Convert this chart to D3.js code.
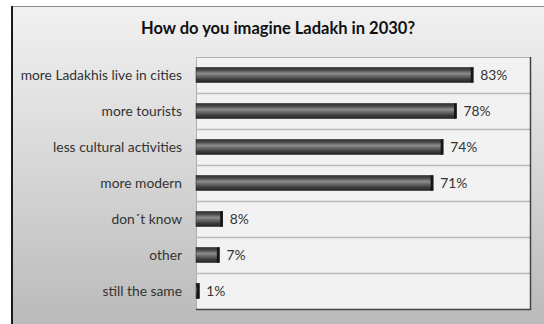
<!DOCTYPE html>
<html>
<head>
<meta charset="utf-8">
<script src="https://cdn.jsdelivr.net/npm/d3@7"></script>
<style>
  html, body { margin: 0; padding: 0; background: #ffffff; }
  svg { display: block; }
</style>
</head>
<body>
<div id="chart"></div>
<script>
// Survey answers: how people imagine Ladakh in 2030 (share of respondents, %)
const categories = [
  "more Ladakhis live in cities",
  "more tourists",
  "less cultural activities",
  "more modern",
  "don\u00b4t know",
  "other",
  "still the same"
];
const values = [83, 78, 74, 71, 8, 7, 1];
const valueLabels = ["83%", "78%", "74%", "71%", "8%", "7%", "1%"];
const chartTitle = "How do you imagine Ladakh in 2030?";

const W = 544, H = 324;
const frame = { x: 11, y: 6 };
const plot = { left: 196, right: 530, top: 57, bottom: 309 };
const font = "Lato, 'Open Sans', sans-serif";

const svg = d3.select("#chart").append("svg")
  .attr("width", W).attr("height", H);

const defs = svg.append("defs");

// outer panel gradient
const bg = defs.append("linearGradient").attr("id", "bg")
  .attr("x1", 0).attr("y1", 0).attr("x2", 0).attr("y2", 1);
bg.append("stop").attr("offset", "0%").attr("stop-color", "#f1f1f1");
bg.append("stop").attr("offset", "45%").attr("stop-color", "#dadada");
bg.append("stop").attr("offset", "100%").attr("stop-color", "#bababa");

// cylinder-like bar shading
const barGrad = defs.append("linearGradient").attr("id", "barGrad")
  .attr("x1", 0).attr("y1", 0).attr("x2", 0).attr("y2", 1);
[["0%", "#2e2e2e"], ["18%", "#4a4a4a"], ["40%", "#8c8c8c"], ["55%", "#6e6e6e"],
 ["80%", "#3a3a3a"], ["100%", "#262626"]].forEach(([o, c]) =>
  barGrad.append("stop").attr("offset", o).attr("stop-color", c));

// panel
svg.append("rect")
  .attr("x", frame.x).attr("y", frame.y)
  .attr("width", W - frame.x).attr("height", H - frame.y)
  .attr("fill", "url(#bg)");
svg.append("line")
  .attr("x1", frame.x).attr("x2", W)
  .attr("y1", frame.y + 0.5).attr("y2", frame.y + 0.5)
  .attr("stroke", "#8a8a8a").attr("stroke-width", 1);
svg.append("line")
  .attr("x1", frame.x + 1).attr("x2", frame.x + 1)
  .attr("y1", frame.y).attr("y2", H)
  .attr("stroke", "#1a1a1a").attr("stroke-width", 2);

// title
svg.append("text")
  .attr("x", 278).attr("y", 34)
  .attr("text-anchor", "middle")
  .attr("font-family", font).attr("font-weight", "bold")
  .attr("font-size", 16.5).attr("fill", "#111")
  .text(chartTitle);

// scales
const x = d3.scaleLinear().domain([0, 100]).range([plot.left, plot.right]);
const y = d3.scaleBand().domain(categories)
  .range([plot.top, plot.bottom]).paddingInner(0.58).paddingOuter(0.29);
const step = y.step();

// plot area
svg.append("rect")
  .attr("x", plot.left).attr("y", plot.top)
  .attr("width", plot.right - plot.left).attr("height", plot.bottom - plot.top)
  .attr("fill", "#f2f2f2");

// row separators
svg.append("g").selectAll("line")
  .data(categories.slice(1))
  .join("line")
  .attr("x1", plot.left).attr("x2", plot.right)
  .attr("y1", d => Math.round(y(d) - step * 0.29) + 0.5)
  .attr("y2", d => Math.round(y(d) - step * 0.29) + 0.5)
  .attr("stroke", "#b8b8b8").attr("stroke-width", 1.5);

// plot borders: light top/left, dark right/bottom
svg.append("path")
  .attr("d", `M${plot.left + 0.5},${plot.bottom}V${plot.top + 0.5}H${plot.right}`)
  .attr("fill", "none").attr("stroke", "#b0b0b0");
svg.append("path")
  .attr("d", `M${plot.left},${plot.bottom + 0.5}H${plot.right + 0.5}V${plot.top}`)
  .attr("fill", "none").attr("stroke", "#444").attr("stroke-width", 1.5);

// category labels
svg.append("g").selectAll("text")
  .data(categories)
  .join("text")
  .attr("x", 182)
  .attr("y", d => y(d) + y.bandwidth() / 2)
  .attr("dy", "0.35em")
  .attr("text-anchor", "end")
  .attr("font-family", font).attr("font-size", 13.8).attr("fill", "#333")
  .text(d => d);

// bars
const bars = svg.append("g").selectAll("g")
  .data(categories.map((c, i) => ({ c, v: values[i], label: valueLabels[i] })))
  .join("g");

bars.append("rect")
  .attr("x", x(0))
  .attr("y", d => y(d.c))
  .attr("width", d => x(d.v) - x(0))
  .attr("height", y.bandwidth())
  .attr("fill", "url(#barGrad)")
  .attr("stroke", "#303030").attr("stroke-width", 0.6);

// dark end cap
bars.append("rect")
  .attr("x", d => Math.max(x(0), x(d.v) - 2.5))
  .attr("y", d => y(d.c))
  .attr("width", d => Math.min(2.5, x(d.v) - x(0)))
  .attr("height", y.bandwidth())
  .attr("fill", "#151515");

// value labels
bars.append("text")
  .attr("x", d => x(d.v) + 7)
  .attr("y", d => y(d.c) + y.bandwidth() / 2)
  .attr("dy", "0.35em")
  .attr("font-family", font).attr("font-size", 13.8).attr("fill", "#333")
  .text(d => d.label);
</script>
</body>
</html>
